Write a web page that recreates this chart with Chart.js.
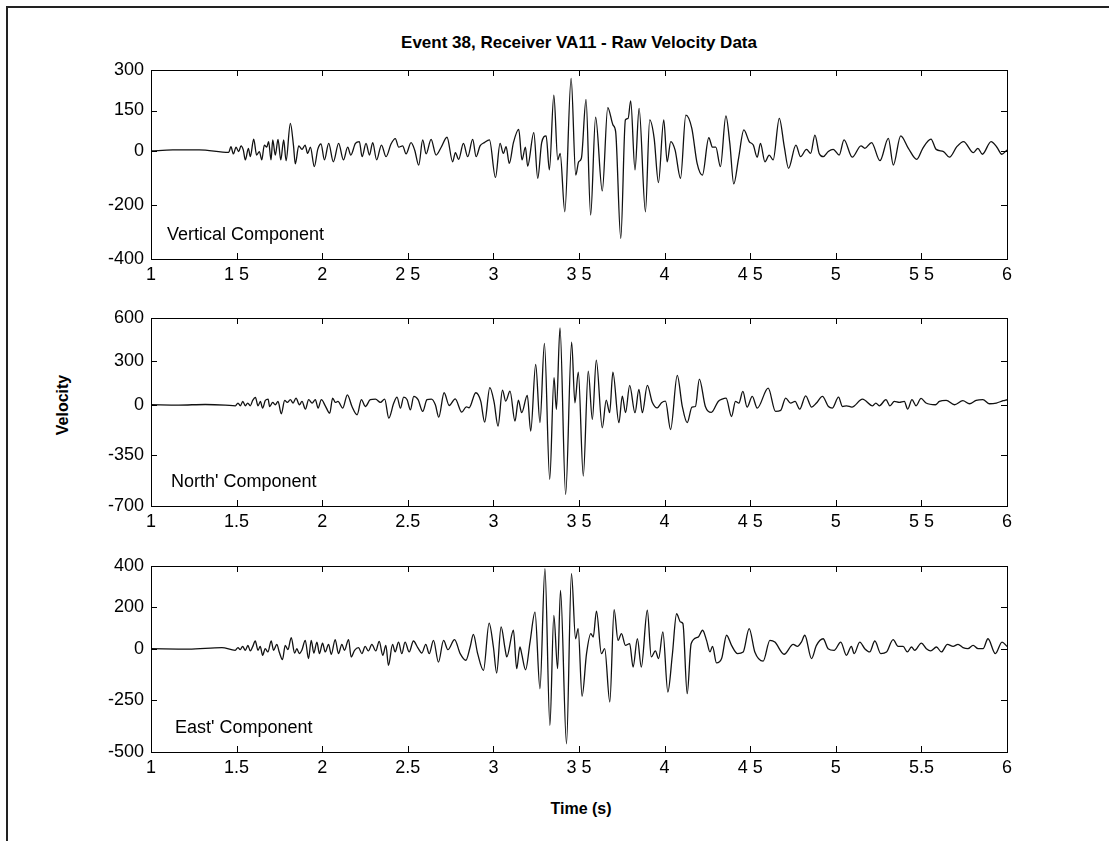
<!DOCTYPE html>
<html>
<head>
<meta charset="utf-8">
<title>Event 38, Receiver VA11 - Raw Velocity Data</title>
<script src="https://cdn.jsdelivr.net/npm/chart.js@4.4.1/dist/chart.umd.min.js"></script>
<style>
  html, body { margin: 0; padding: 0; background: #fff; }
  #page { position: relative; width: 1109px; height: 841px; overflow: hidden; font-family: "Liberation Sans", Arial, sans-serif; color: #000; }
  #frame { position: absolute; left: 6px; top: 6px; width: 1110px; height: 840px; border-left: 2px solid #222; border-top: 2px solid #222; }
  canvas { position: absolute; left: 0; }
  .lbl { position: absolute; font-weight: bold; white-space: nowrap; }
  #title { font-size: 17px; left: 579px; top: 33px; transform: translateX(-50%); }
  #xtitle { font-size: 16px; left: 581px; top: 800px; transform: translateX(-50%); }
  #ytitle { font-size: 16px; left: 63px; top: 405px; transform: translate(-50%, -50%) rotate(-90deg); }
</style>
</head>
<body>
<div id="page">
  <div id="frame"></div>
  <div class="lbl" id="title">Event 38, Receiver VA11 - Raw Velocity Data</div>
  <div class="lbl" id="ytitle">Velocity</div>
  <div class="lbl" id="xtitle">Time (s)</div>
  <canvas id="vertChart" width="1109" height="249" style="top:50px"></canvas>
  <canvas id="northChart" width="1109" height="248" style="top:298px"></canvas>
  <canvas id="eastChart" width="1109" height="246" style="top:546px"></canvas>
</div>
<script>
// 时间轴刻度
const xTicks = [1, 1.5, 2, 2.5, 3, 3.5, 4, 4.5, 5, 5.5, 6];
const vertXLabels = ['1', '1 5', '2', '2 5', '3', '3 5', '4', '4 5', '5', '5 5', '6'];
const northXLabels = ['1', '1.5', '2', '2.5', '3', '3 5', '4', '4 5', '5', '5 5', '6'];
const eastXLabels = ['1', '1.5', '2', '2.5', '3', '3 5', '4', '4 5', '5', '5.5', '6'];

// 纵轴刻度
const vertYTicks = [300, 150, 0, -200, -400];
const northYTicks = [600, 300, 0, -350, -700];
const eastYTicks = [400, 200, 0, -250, -500];

// Vertical Component (峰谷读数)
const vertTime = [
  1.000,1.127,1.282,1.454,1.467,1.481,1.497,1.512,1.526,1.539,
  1.551,1.569,1.580,1.600,1.617,1.633,1.647,1.662,1.676,1.687,
  1.701,1.711,1.726,1.742,1.758,1.775,1.789,1.814,1.832,1.843,
  1.863,1.882,1.900,1.915,1.931,1.954,1.974,1.993,2.013,2.038,
  2.065,2.096,2.124,2.149,2.167,2.194,2.217,2.233,2.256,2.276,
  2.295,2.318,2.346,2.373,2.402,2.427,2.447,2.470,2.490,2.519,
  2.540,2.564,2.587,2.607,2.636,2.665,2.695,2.729,2.762,2.778,
  2.797,2.825,2.850,2.879,2.899,2.922,2.947,2.977,3.012,3.039,
  3.058,3.074,3.093,3.117,3.148,3.167,3.187,3.200,3.236,3.259,
  3.282,3.308,3.327,3.353,3.376,3.390,3.417,3.454,3.481,3.498,
  3.514,3.541,3.568,3.597,3.636,3.668,3.699,3.714,3.744,3.771,
  3.787,3.802,3.827,3.851,3.888,3.913,3.939,3.964,3.995,4.015,
  4.036,4.061,4.093,4.124,4.159,4.190,4.221,4.258,4.280,4.299,
  4.326,4.358,4.381,4.404,4.432,4.463,4.494,4.518,4.541,4.560,
  4.586,4.611,4.634,4.670,4.699,4.724,4.767,4.794,4.829,4.853,
  4.878,4.903,4.927,4.956,4.985,5.020,5.048,5.096,5.147,5.170,
  5.209,5.258,5.307,5.336,5.379,5.424,5.473,5.508,5.556,5.586,
  5.629,5.664,5.707,5.746,5.804,5.830,5.856,5.907,5.941,5.970,
  6.000
];
const vertVel = [
  0,4,4,-5,16,-11,14,-2,19,4,
  -33,10,-21,44,-15,-2,-33,22,14,35,
  -33,41,-15,43,-33,41,-36,102,22,-48,
  19,6,22,-9,14,-58,6,26,-33,28,
  -40,28,-33,14,-15,28,35,-21,28,-15,
  31,-33,22,-21,26,46,14,19,-11,31,
  4,-52,41,-11,43,-15,14,51,-40,-6,
  -31,28,-21,43,-21,19,31,41,-98,28,
  -9,16,-46,31,80,-33,14,-56,68,-101,
  31,56,-70,207,-33,-9,-225,269,-89,-40,
  -27,191,-237,125,-148,161,96,72,-324,115,
  121,186,-70,158,-225,115,47,-117,115,-40,
  35,4,-101,133,84,-46,-89,49,14,14,
  -58,130,28,-122,-27,78,35,22,-23,28,
  -40,-15,-33,121,16,-64,22,-21,6,-9,
  59,-9,-21,-2,6,-15,41,-23,19,10,
  31,-36,47,-52,56,10,-31,10,44,6,
  -2,-23,16,35,-6,10,-12,35,14,-12,
  4
];

// North' Component
const northTime = [
  1.000,1.162,1.317,1.434,1.493,1.508,1.522,1.536,1.551,1.565,
  1.580,1.594,1.610,1.625,1.639,1.652,1.668,1.684,1.693,1.711,
  1.726,1.742,1.761,1.781,1.796,1.814,1.830,1.847,1.867,1.882,
  1.902,1.921,1.941,1.960,1.976,1.995,2.018,2.044,2.061,2.077,
  2.092,2.120,2.147,2.174,2.204,2.229,2.252,2.281,2.311,2.340,
  2.365,2.389,2.418,2.437,2.457,2.476,2.496,2.515,2.535,2.560,
  2.587,2.612,2.638,2.661,2.681,2.712,2.742,2.777,2.815,2.842,
  2.858,2.897,2.926,2.949,2.979,3.004,3.027,3.053,3.072,3.097,
  3.126,3.146,3.165,3.198,3.218,3.247,3.272,3.298,3.329,3.354,
  3.368,3.389,3.422,3.457,3.476,3.496,3.525,3.554,3.578,3.601,
  3.636,3.659,3.679,3.698,3.733,3.753,3.772,3.796,3.827,3.850,
  3.870,3.899,3.928,3.957,3.982,4.005,4.035,4.074,4.103,4.132,
  4.160,4.180,4.203,4.238,4.273,4.313,4.336,4.359,4.391,4.414,
  4.434,4.457,4.482,4.512,4.541,4.605,4.648,4.678,4.707,4.736,
  4.762,4.789,4.824,4.859,4.887,4.922,4.957,4.980,5.016,5.039,
  5.063,5.094,5.156,5.215,5.234,5.254,5.293,5.316,5.342,5.371,
  5.400,5.420,5.445,5.469,5.498,5.527,5.582,5.605,5.645,5.693,
  5.742,5.781,5.820,5.859,5.898,5.938,5.977,6.000
];
const northVel = [
  0,-2,2,-2,-7,12,-7,23,-7,12,
  -7,30,51,-7,23,-23,30,39,-12,16,
  0,23,-62,30,16,35,12,46,0,23,
  -30,35,12,35,-23,35,-7,-58,46,16,
  23,-23,69,-12,-69,35,-12,35,39,16,
  39,-92,12,53,-23,53,35,-35,58,35,
  -46,35,39,0,-85,83,-5,41,-51,-14,
  -21,83,25,-120,118,18,-148,101,25,94,
  -113,32,-55,65,-182,279,-124,424,-516,187,
  -32,532,-620,433,14,226,-493,233,-101,309,
  -159,32,-55,226,-124,60,-55,134,-55,106,
  -55,134,18,-21,14,25,-171,203,-9,-124,
  -16,-12,177,-12,-53,23,39,46,-81,23,
  12,92,-16,58,-23,115,-46,-39,46,12,
  23,-30,62,-16,12,58,-12,-23,53,-12,
  -7,-16,39,-7,12,-7,35,-7,23,16,
  23,-30,35,-7,44,12,0,23,30,0,
  28,7,30,35,7,12,28,35
];

// East' Component
const eastTime = [
  1.000,1.220,1.414,1.492,1.508,1.521,1.535,1.551,1.566,1.580,
  1.593,1.609,1.625,1.638,1.652,1.667,1.683,1.702,1.716,1.735,
  1.749,1.768,1.784,1.800,1.819,1.839,1.852,1.866,1.881,1.901,
  1.920,1.936,1.951,1.969,1.984,2.002,2.018,2.037,2.053,2.076,
  2.095,2.115,2.130,2.154,2.169,2.189,2.212,2.232,2.251,2.270,
  2.290,2.313,2.333,2.354,2.372,2.387,2.411,2.426,2.446,2.465,
  2.484,2.508,2.533,2.558,2.582,2.605,2.625,2.650,2.679,2.709,
  2.734,2.773,2.806,2.839,2.864,2.883,2.908,2.942,2.975,3.000,
  3.019,3.045,3.068,3.078,3.117,3.136,3.155,3.165,3.188,3.214,
  3.243,3.272,3.301,3.330,3.353,3.375,3.392,3.427,3.456,3.480,
  3.495,3.518,3.544,3.569,3.583,3.602,3.631,3.650,3.680,3.705,
  3.728,3.748,3.771,3.796,3.816,3.841,3.864,3.899,3.922,3.946,
  3.965,3.990,4.019,4.045,4.070,4.093,4.107,4.132,4.155,4.196,
  4.222,4.245,4.265,4.280,4.303,4.333,4.362,4.391,4.426,4.459,
  4.494,4.527,4.576,4.615,4.644,4.698,4.751,4.776,4.799,4.819,
  4.858,4.887,4.926,4.955,4.990,5.029,5.062,5.091,5.107,5.140,
  5.169,5.198,5.228,5.263,5.296,5.335,5.364,5.393,5.418,5.442,
  5.461,5.500,5.529,5.554,5.588,5.617,5.652,5.685,5.714,5.743,
  5.772,5.802,5.831,5.860,5.889,5.932,5.971,6.000
];
const eastVel = [
  0,-2,5,-8,5,-5,11,-8,16,-11,
  8,37,-8,11,-32,0,-16,37,-8,21,
  -16,-53,16,-5,53,-21,0,-24,-8,40,
  -48,40,-21,32,-24,27,-16,21,-27,44,
  -24,21,-8,44,-40,-8,5,-24,11,-11,
  21,-11,35,-32,16,-81,21,-16,32,-24,
  32,-16,37,5,-21,21,-24,40,-65,40,
  -5,44,-24,-56,8,69,-24,-105,124,8,
  -118,105,0,-40,89,-97,8,-24,-102,32,
  177,-194,387,-371,161,-97,282,-460,363,48,
  97,-230,-24,73,56,182,-24,0,-258,189,
  40,73,16,24,-89,48,-89,186,-40,-11,
  -48,81,-210,-32,169,129,121,-218,24,56,
  89,40,-16,11,-69,-48,65,16,-24,-16,
  97,-16,-60,40,32,-27,21,11,32,65,
  -48,16,48,0,-8,32,-32,11,-24,32,
  0,-16,37,-24,-16,44,11,11,-16,8,
  -8,27,0,-11,8,-16,21,11,21,5,
  0,16,0,0,48,-24,32,11
];

const FONT = '"Liberation Sans", Arial, sans-serif';

/**
 * 框线、内向刻度与分量标签
 */
const frameTicks = {
  id: 'frameTicks',
  afterDatasetsDraw(chart, args, opts) {
    const { ctx, chartArea: a, scales } = chart;
    ctx.save();
    ctx.strokeStyle = '#000';
    ctx.lineWidth = 1;
    ctx.strokeRect(a.left + 0.5, a.top + 0.5, a.right - a.left, a.bottom - a.top);
    ctx.beginPath();
    scales.x.ticks.forEach(t => {
      const p = Math.round(scales.x.getPixelForValue(t.value)) + 0.5;
      ctx.moveTo(p, a.bottom); ctx.lineTo(p, a.bottom - 6);
      ctx.moveTo(p, a.top); ctx.lineTo(p, a.top + 6);
    });
    scales.y.ticks.forEach(t => {
      const p = Math.round(scales.y.getPixelForValue(t.value)) + 0.5;
      ctx.moveTo(a.left, p); ctx.lineTo(a.left + 6, p);
      ctx.moveTo(a.right, p); ctx.lineTo(a.right - 6, p);
    });
    ctx.stroke();
    ctx.fillStyle = '#000';
    ctx.font = '18px ' + FONT;
    ctx.textBaseline = 'alphabetic';
    ctx.fillText(opts.label, a.left + opts.dx, a.bottom - 19);
    ctx.restore();
  }
};

function makePanel(id, times, vels, yTicks, xLabels, label, dx) {
  const points = times.map((t, i) => ({ x: t, y: vels[i] }));
  return new Chart(document.getElementById(id), {
    type: 'line',
    data: {
      datasets: [{
        data: points,
        borderColor: '#111',
        borderWidth: 1.3,
        pointRadius: 0,
        cubicInterpolationMode: 'monotone',
        fill: false
      }]
    },
    options: {
      responsive: false,
      animation: false,
      devicePixelRatio: 1,
      layout: { padding: { top: 20, right: 102, left: 0, bottom: 0 } },
      plugins: {
        legend: { display: false },
        tooltip: { enabled: false },
        frameTicks: { label: label, dx: dx }
      },
      scales: {
        x: {
          type: 'linear',
          min: 1,
          max: 6,
          afterBuildTicks: s => { s.ticks = xTicks.map(v => ({ value: v })); },
          afterFit: s => { s.height = 40; },
          grid: { display: false, drawTicks: false },
          border: { display: false },
          ticks: {
            autoSkip: false,
            maxRotation: 0,
            padding: 5,
            color: '#000',
            font: { family: FONT, size: 18 },
            callback: (v, i) => xLabels[i]
          }
        },
        y: {
          type: 'linear',
          min: yTicks[yTicks.length - 1],
          max: yTicks[0],
          afterBuildTicks: s => { s.ticks = yTicks.map(v => ({ value: v })); },
          afterFit: s => { s.width = 151; },
          grid: { display: false, drawTicks: false },
          border: { display: false },
          ticks: {
            padding: 7,
            color: '#000',
            font: { family: FONT, size: 18 },
            callback: v => String(v)
          }
        }
      }
    },
    plugins: [frameTicks]
  });
}

makePanel('vertChart', vertTime, vertVel, vertYTicks, vertXLabels, 'Vertical Component', 16);
makePanel('northChart', northTime, northVel, northYTicks, northXLabels, "North' Component", 20);
makePanel('eastChart', eastTime, eastVel, eastYTicks, eastXLabels, "East' Component", 24);
</script>
</body>
</html>
